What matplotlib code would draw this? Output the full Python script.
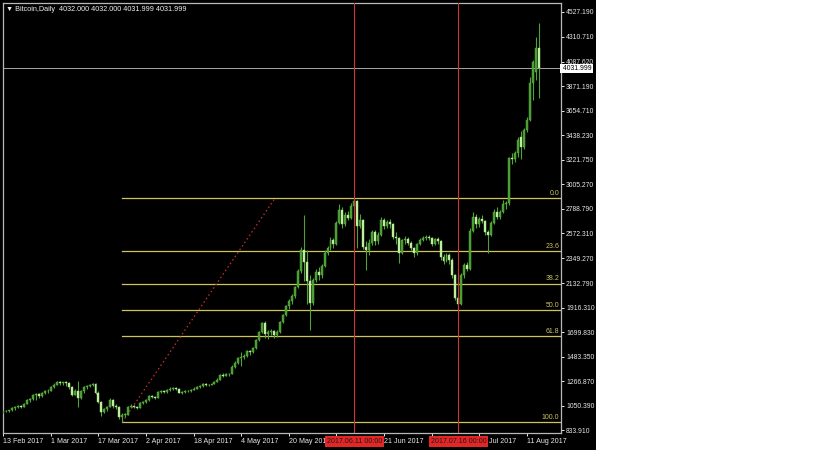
import matplotlib
matplotlib.use("Agg")
import matplotlib.pyplot as plt
import matplotlib.transforms as mtransforms
from matplotlib.patches import Rectangle
import numpy as np

# daily bars, one per index (0 = 13 Feb 2017)
opens = [995, 1000, 1005, 1008, 1025, 1040, 1045, 1040, 1065, 1100, 1105, 1140, 1150, 1130, 1160, 1175,
         1180, 1210, 1235, 1255, 1245, 1255, 1250, 1215, 1145, 1180, 1120, 1175, 1210, 1225, 1230, 1240,
         1165, 1080, 990, 1020, 1040, 1100, 1045, 1040, 950, 965, 970, 1040, 1045, 1035, 1030, 1070,
         1080, 1095, 1130, 1125, 1120, 1170, 1175, 1170, 1190, 1195, 1205, 1200, 1165, 1172, 1175, 1178,
         1190, 1200, 1212, 1225, 1238, 1230, 1235, 1242, 1262, 1280, 1320, 1315, 1325, 1330, 1395, 1425,
         1470, 1480, 1490, 1530, 1520, 1560, 1630, 1700, 1780, 1680, 1700, 1705, 1670, 1700, 1790, 1850,
         1930, 1970, 2020, 2100, 2240, 2420, 2320, 2150, 1960, 2160, 2230, 2200, 2280, 2400, 2440, 2510,
         2480, 2660, 2780, 2650, 2730, 2710, 2810, 2860, 2640, 2690, 2450, 2420, 2490, 2580, 2500, 2560,
         2690, 2640, 2670, 2650, 2540, 2530, 2400, 2510, 2520, 2490, 2440, 2400, 2480, 2510, 2530, 2540,
         2530, 2480, 2520, 2500, 2360, 2330, 2380, 2340, 2200, 2000, 1950, 2200, 2290, 2260, 2590, 2720,
         2650, 2700, 2680, 2580, 2560, 2660, 2760, 2720, 2760, 2830, 2840, 3237, 3230, 3280, 3420, 3335,
         3485, 3573, 3900, 4000, 4210]
highs = [1010, 1012, 1015, 1035, 1050, 1055, 1052, 1075, 1110, 1115, 1150, 1165, 1160, 1170, 1185, 1195,
         1220, 1250, 1270, 1265, 1262, 1265, 1255, 1220, 1195, 1270, 1185, 1220, 1235, 1240, 1250, 1245,
         1175, 1090, 1030, 1050, 1115, 1110, 1060, 1045, 985, 980, 1045, 1060, 1055, 1045, 1080, 1090,
         1105, 1140, 1145, 1135, 1180, 1190, 1185, 1200, 1210, 1215, 1215, 1205, 1180, 1185, 1185, 1198,
         1210, 1220, 1232, 1245, 1245, 1242, 1250, 1270, 1290, 1330, 1335, 1335, 1340, 1405, 1440, 1480,
         1520, 1505, 1545, 1545, 1570, 1640, 1710, 1785, 1800, 1720, 1730, 1715, 1720, 1800, 1860, 1940,
         1990, 2040, 2110, 2260, 2450, 2734, 2420, 2200, 2180, 2260, 2270, 2300, 2420, 2460, 2540, 2530,
         2680, 2830, 2800, 2760, 2770, 2840, 2884, 2870, 2740, 2700, 2500, 2520, 2600, 2600, 2580, 2720,
         2710, 2690, 2700, 2660, 2580, 2540, 2520, 2550, 2540, 2500, 2450, 2490, 2530, 2550, 2560, 2555,
         2540, 2530, 2540, 2510, 2390, 2400, 2400, 2350, 2210, 2020, 2220, 2310, 2320, 2620, 2760, 2740,
         2720, 2730, 2690, 2600, 2680, 2790, 2800, 2780, 2866, 2860, 3245, 3280, 3300, 3420, 3480, 3500,
         3600, 3953, 4103, 4306, 4430]
lows = [985, 990, 995, 1000, 1015, 1030, 1030, 1035, 1060, 1085, 1100, 1100, 1115, 1125, 1150, 1165,
        1175, 1205, 1230, 1230, 1235, 1225, 1200, 1130, 1140, 1040, 1110, 1165, 1200, 1215, 1220, 1150,
        1070, 960, 980, 1005, 1035, 1030, 1020, 930, 904.6, 945, 965, 1025, 1025, 1020, 1025, 1060,
        1070, 1090, 1115, 1110, 1115, 1160, 1160, 1165, 1180, 1190, 1190, 1160, 1155, 1165, 1168, 1170,
        1185, 1195, 1205, 1218, 1222, 1225, 1228, 1238, 1255, 1275, 1300, 1308, 1315, 1325, 1385, 1415,
        1400, 1460, 1480, 1500, 1510, 1550, 1620, 1690, 1650, 1640, 1670, 1650, 1660, 1695, 1780, 1840,
        1900, 1950, 2000, 2090, 2220, 2150, 1950, 1717, 1940, 2140, 2160, 2180, 2270, 2380, 2420, 2440,
        2470, 2650, 2620, 2640, 2690, 2700, 2790, 2440, 2620, 2430, 2250, 2380, 2470, 2470, 2480, 2550,
        2610, 2620, 2620, 2520, 2480, 2310, 2390, 2480, 2470, 2420, 2360, 2380, 2470, 2500, 2510, 2510,
        2460, 2470, 2480, 2340, 2300, 2320, 2300, 2180, 1980, 1868, 1940, 2180, 2240, 2250, 2580, 2620,
        2630, 2660, 2560, 2398, 2550, 2650, 2700, 2700, 2750, 2790, 2820, 3180, 3200, 3250, 3228, 3320,
        3470, 3560, 3750, 3926, 3767]
closes = [1000, 1005, 1008, 1025, 1040, 1045, 1040, 1065, 1100, 1105, 1140, 1150, 1130, 1160, 1175, 1180,
          1210, 1235, 1255, 1245, 1255, 1250, 1215, 1145, 1180, 1120, 1175, 1210, 1225, 1230, 1240, 1165,
          1080, 990, 1020, 1040, 1100, 1045, 1040, 950, 965, 970, 1040, 1045, 1035, 1030, 1070, 1080,
          1095, 1130, 1125, 1120, 1170, 1175, 1170, 1190, 1195, 1205, 1200, 1165, 1172, 1175, 1178, 1190,
          1200, 1212, 1225, 1238, 1230, 1235, 1242, 1262, 1280, 1320, 1315, 1325, 1330, 1395, 1425, 1470,
          1480, 1490, 1530, 1520, 1560, 1630, 1700, 1780, 1680, 1700, 1705, 1670, 1700, 1790, 1850, 1930,
          1970, 2020, 2100, 2240, 2420, 2320, 2150, 1960, 2160, 2230, 2200, 2280, 2400, 2440, 2510, 2480,
          2660, 2780, 2650, 2730, 2710, 2810, 2860, 2640, 2690, 2450, 2420, 2490, 2580, 2500, 2560, 2690,
          2640, 2670, 2650, 2540, 2530, 2400, 2510, 2520, 2490, 2440, 2400, 2480, 2510, 2530, 2540, 2530,
          2480, 2520, 2500, 2360, 2330, 2380, 2340, 2200, 2000, 1950, 2200, 2290, 2260, 2590, 2720, 2650,
          2700, 2680, 2580, 2560, 2660, 2760, 2720, 2760, 2830, 2840, 3237, 3230, 3280, 3400, 3335, 3485,
          3573, 3900, 4085, 4210, 4032]

price_ticks = [4527.190, 4310.710, 4087.620, 3871.190, 3654.710, 3438.230, 3221.750, 3005.270,
               2788.790, 2572.310, 2349.270, 2132.790, 1916.310, 1699.830, 1483.350, 1266.870,
               1050.390, 833.910]
date_tick_bars = [0, 16, 32, 48, 64, 80, 96, 112, 128, 144, 160, 176]
date_tick_labels = ["13 Feb 2017", "1 Mar 2017", "17 Mar 2017", "2 Apr 2017", "18 Apr 2017",
                    "4 May 2017", "20 May 2017", "5 Jun 2017", "21 Jun 2017", "7 Jul 2017",
                    "23 Jul 2017", "11 Aug 2017"]

fib_low = 904.6
fib_high = 2883.8
fib_start_bar = 40
fib_end_bar = 91.4
fib_levels = [0.0, 23.6, 38.2, 50.0, 61.8, 100.0]

vline_bars = [118, 153]
vline_labels = ["2017.06.11 00:00", "2017.07.16 00:00"]
last_price = 4031.999
header = "\u25bc Bitcoin,Daily  4032.000 4032.000 4031.999 4031.999"

plt.rcParams['font.family'] = ['Liberation Sans', 'DejaVu Sans']

W, H = 833, 450
fig = plt.figure(figsize=(W / 100, H / 100), dpi=100, facecolor='white')
bg = Rectangle((0, 0), 596 / W, 1.0, transform=fig.transFigure,
               facecolor='black', edgecolor='none', zorder=-10)
fig.add_artist(bg)

ax = fig.add_axes([3 / W, (H - 433) / H, (561 - 3) / W, (433 - 3) / H])
ax.set_zorder(1)
ax.set_facecolor('black')
ax.set_xlim(-0.1, 187.5)
ax.set_ylim(807.5, 4606.7)

o = np.array(opens, dtype=float)
h = np.array(highs, dtype=float)
l = np.array(lows, dtype=float)
c = np.array(closes, dtype=float)
x = np.arange(len(c))
up = c >= o

wick_col = '#52a238'
ax.vlines(x, l, h, color=wick_col, linewidth=0.8, zorder=3)
body_h = np.maximum(np.abs(c - o), 6)
ax.bar(x[up], body_h[up], bottom=np.minimum(o, c)[up], width=0.66,
       color='#449a2e', edgecolor='#62b846', linewidth=0.3, zorder=4)
ax.bar(x[~up], body_h[~up], bottom=np.minimum(o, c)[~up], width=0.66,
       color='#c6f2a6', edgecolor='#a8e08a', linewidth=0.3, zorder=4)

# fibonacci retracement
fib_col = '#cfc45a'
for lv in fib_levels:
    p = fib_high - (fib_high - fib_low) * lv / 100
    ax.plot([fib_start_bar, 187.5], [p, p], color=fib_col, linewidth=0.9, zorder=2)
    ax.text(186.9, p + 12, f"{lv:.1f}", color=fib_col, fontsize=5, ha='right', va='bottom', zorder=6)
ax.plot([fib_start_bar, fib_end_bar], [fib_low, fib_high], color='#c83030',
        linestyle=(0, (1.2, 2.2)), linewidth=0.9, zorder=2)

# vertical markers
for b in vline_bars:
    ax.axvline(b, color='#d03434', linewidth=0.8, zorder=5)

# last price line
ax.axhline(last_price, color='#a8a8a8', linewidth=0.7, zorder=1)

for s in ax.spines.values():
    s.set_color('#b8b8b8')
    s.set_linewidth(0.9)

ax.yaxis.tick_right()
ax.set_yticks(price_ticks)
ax.set_yticklabels([f"{v:.3f}" for v in price_ticks])
ax.tick_params(axis='y', colors='#e8e8e8', labelsize=4.9, length=2.5, width=0.7, pad=1.2)
ax.set_xticks(date_tick_bars)
ax.set_xticklabels(date_tick_labels, ha='left')
ax.tick_params(axis='x', colors='#e8e8e8', labelsize=5.1, length=2.5, width=0.7, pad=0.8)

# red date boxes on time axis
bx = mtransforms.blended_transform_factory(ax.transData, ax.transAxes)
for b, t in zip(vline_bars, vline_labels):
    ax.text(b, -0.0115, t, transform=bx, ha='center', va='top', fontsize=5.1, color='#1a1a1a',
            bbox=dict(boxstyle='square,pad=0.25', facecolor='#e42626', edgecolor='none'),
            clip_on=False, zorder=10)

# last price box
by = mtransforms.blended_transform_factory(ax.transAxes, ax.transData)
ax.text(1.0, last_price, " " + f"{last_price:.3f}", transform=by, ha='left', va='center',
        fontsize=4.9, color='black',
        bbox=dict(boxstyle='square,pad=0.15', facecolor='white', edgecolor='none'),
        clip_on=False, zorder=10)

ax.text(0.006, 0.993, header, transform=ax.transAxes, ha='left', va='top', fontsize=5.2,
        color='#f0f0f0', family=['Liberation Sans', 'DejaVu Sans'], zorder=10)

fig.savefig("out.png", dpi=100, facecolor='white')
